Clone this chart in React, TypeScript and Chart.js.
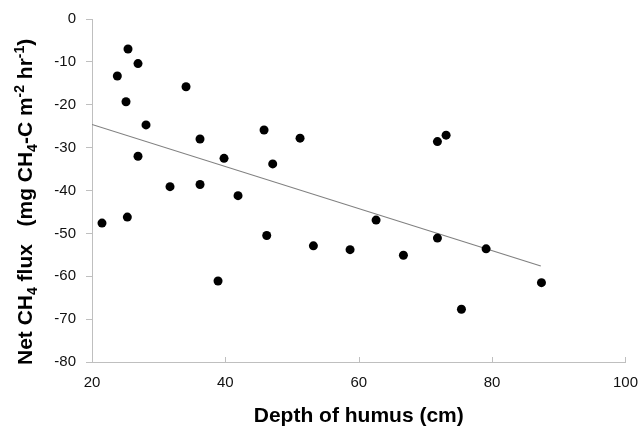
import React, { useEffect, useRef } from "react";
import { Chart, registerables } from "chart.js";

Chart.register(...registerables);

const depthX: number[] = [
  25.4, 26.9, 23.8, 34.1, 25.1, 28.1, 36.2, 26.9, 31.7, 36.2, 21.5, 25.3, 38.9, 45.8, 51.2,
  39.8, 47.1, 41.9, 62.6, 46.2, 53.2, 58.7, 66.7, 71.8, 73.1, 71.8, 79.1, 87.4, 75.4,
];
const fluxY: number[] = [
  -7.0, -10.4, -13.3, -15.8, -19.3, -24.7, -28.0, -32.0, -39.1, -38.6, -47.6, -46.2, -61.1, -25.9, -27.8,
  -32.5, -33.8, -41.2, -46.9, -50.5, -52.9, -53.8, -55.1, -28.6, -27.1, -51.1, -53.6, -61.5, -67.7,
];
const trendX: number[] = [20, 87.3];
const trendY: number[] = [-24.6, -57.6];

const xTitle = "Depth of humus (cm)";
const yTitleParts: { t: string; k: "n" | "sub" | "sup" }[] = [
  { t: "Net CH", k: "n" },
  { t: "4", k: "sub" },
  { t: " flux   (mg CH", k: "n" },
  { t: "4", k: "sub" },
  { t: "-C m", k: "n" },
  { t: "-2", k: "sup" },
  { t: " hr", k: "n" },
  { t: "-1", k: "sup" },
  { t: ")", k: "n" },
];

const FONT = "'Liberation Sans', Arial, sans-serif";

export default function App() {
  const ref = useRef<HTMLCanvasElement | null>(null);
  useEffect(() => {
    if (!ref.current) return;
    const yTitlePlugin = {
      id: "yTitle",
      afterDraw(chart: any) {
        const ctx = chart.ctx as CanvasRenderingContext2D;
        ctx.save();
        ctx.translate(32, 365);
        ctx.rotate(-Math.PI / 2);
        ctx.fillStyle = "#000";
        ctx.textBaseline = "alphabetic";
        ctx.textAlign = "left";
        let x = 0;
        for (const p of yTitleParts) {
          if (p.k === "n") {
            ctx.font = `bold 21px ${FONT}`;
            ctx.fillText(p.t, x, 0);
          } else if (p.k === "sub") {
            ctx.font = `bold 14px ${FONT}`;
            ctx.fillText(p.t, x, 5);
          } else {
            ctx.font = `bold 14px ${FONT}`;
            ctx.fillText(p.t, x, -8);
          }
          x += ctx.measureText(p.t).width;
        }
        ctx.restore();
        // inward x ticks
        const xs = chart.scales.x;
        const area = chart.chartArea;
        ctx.save();
        ctx.strokeStyle = "#bfbfbf";
        ctx.lineWidth = 1;
        xs.ticks.forEach((_t: any, i: number) => {
          const px = Math.round(xs.getPixelForTick(i)) + 0.5;
          ctx.beginPath();
          ctx.moveTo(px, area.bottom);
          ctx.lineTo(px, area.bottom - 5);
          ctx.stroke();
        });
        ctx.restore();
      },
    };
    const chart = new Chart(ref.current, {
      type: "scatter",
      data: {
        datasets: [
          {
            label: "points",
            data: depthX.map((x, i) => ({ x, y: fluxY[i] })),
            backgroundColor: "#000",
            borderWidth: 0,
            pointRadius: 4.5,
            order: 0,
          },
          {
            label: "trend",
            type: "line",
            data: trendX.map((x, i) => ({ x, y: trendY[i] })),
            borderColor: "#808080",
            borderWidth: 1.2,
            pointRadius: 0,
            fill: false,
            order: 1,
          } as any,
        ],
      },
      options: {
        animation: false,
        responsive: false,
        devicePixelRatio: 1,
        layout: { padding: { top: 19, right: 0, left: 0, bottom: 0 } },
        plugins: { legend: { display: false }, tooltip: { enabled: false } },
        scales: {
          x: {
            type: "linear",
            min: 20,
            max: 100,
            grid: {
              display: true,
              drawOnChartArea: false,
              drawTicks: true,
              tickLength: 12,
              tickColor: "rgba(0,0,0,0)",
              color: "rgba(0,0,0,0)",
            },
            border: { display: true, color: "#bfbfbf", width: 1 },
            ticks: {
              stepSize: 20,
              padding: 0,
              color: "#111",
              font: { family: FONT, size: 15 },
              maxRotation: 0,
            },
            title: {
              display: true,
              text: xTitle,
              color: "#000",
              font: { family: FONT, size: 21, weight: "bold" },
              padding: { top: 0, bottom: -1 },
            },
            afterFit: (s: any) => {
              s.height = 66;
            },
          },
          y: {
            type: "linear",
            min: -80,
            max: 0,
            grid: { drawOnChartArea: false, drawTicks: true, tickLength: 6, color: "#bfbfbf" },
            border: { display: true, color: "#bfbfbf", width: 1 },
            ticks: {
              stepSize: 10,
              padding: 10,
              color: "#111",
              font: { family: FONT, size: 15 },
            },
            afterFit: (s: any) => {
              s.width = 92;
            },
          },
        },
      },
      plugins: [yTitlePlugin],
    });
    return () => chart.destroy();
  }, []);
  return (
    <div style={{ position: "absolute", left: 0, top: 0, width: 638, height: 428, background: "#fff" }}>
      <canvas ref={ref} width={638} height={428} style={{ width: 638, height: 428 }} />
    </div>
  );
}
